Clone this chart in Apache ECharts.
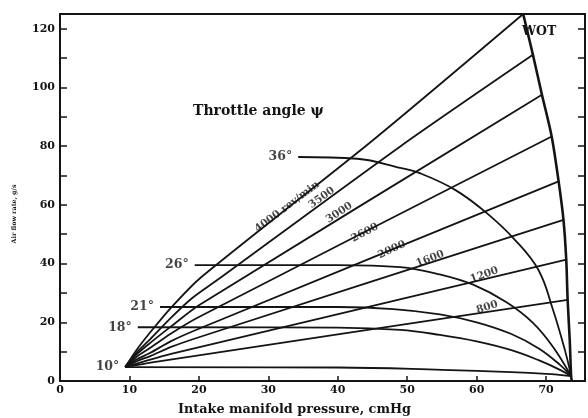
<!DOCTYPE html>
<html>
<head>
<meta charset="utf-8">
<script src="https://cdn.jsdelivr.net/npm/echarts@6/dist/echarts.min.js"></script>
<style>
  html, body { margin: 0; padding: 0; background: #fff; }
  #chart { width: 588px; height: 418px; }
</style>
</head>
<body>
<div id="chart"></div>
<script>
// Engine map: air flow rate vs. intake manifold pressure,
// constant-speed lines fanning out to the wide-open-throttle (WOT) boundary,
// and constant throttle-angle curves closing down toward ambient pressure.

const xTicks = [0, 10, 20, 30, 40, 50, 60, 70];
const yTicks = [0, 20, 40, 60, 80, 100, 120];

// constant engine speed lines, [pressure cmHg, air flow g/s]
const speedNames = ['4000 rev/min', '3500', '3000', '2600', '2000', '1600', '1200', '800'];
const speed4000 = [[9.4, 4.8], [11, 10.5], [13, 16.6], [16, 25], [20.2, 35.1], [45.1, 82.1], [66.7, 125]];
const speed3500 = [[9.4, 4.8], [11, 9.6], [13, 14.3], [16, 21.6], [19, 28.2], [23, 35], [49, 79.9], [68.1, 111.1]];
const speed3000 = [[9.4, 4.8], [11, 9], [13, 13], [16, 18.6], [20, 25.8], [69.4, 97.5]];
const speed2600 = [[9.4, 4.8], [11, 8.2], [13, 11.3], [16, 16.2], [20, 21.8], [70.8, 83.3]];
const speed2000 = [[9.4, 4.8], [11, 7.3], [13, 9.6], [16, 13.6], [20, 17.8], [71.8, 68.0]];
const speed1600 = [[9.4, 4.8], [11, 6.7], [13, 8.5], [16, 11.6], [20, 14.9], [72.5, 54.9]];
const speed1200 = [[9.4, 4.8], [12, 6.6], [16, 9.2], [72.9, 41.3]];
const speed800 = [[9.4, 4.8], [14, 6.6], [73.1, 27.6]];

// constant throttle angle curves
const throttleNames = ['36°', '26°', '21°', '18°', '10°'];
const throttle36 = [[34.3, 76.3], [42.8, 75.7], [49.0, 72.6], [51.8, 70.8], [56.9, 65.1], [61.5, 57.1], [65.5, 48.1], [68.9, 37.8], [71.0, 24.2], [72.7, 10.6], [73.6, 1.7]];
const throttle26 = [[19.4, 39.5], [40, 39.5], [49, 38.8], [54.7, 36.3], [59.5, 32.8], [64.3, 26.8], [68.1, 19.8], [71.0, 11.6], [73.6, 1.7]];
const throttle21 = [[14.4, 25.2], [40, 25.2], [48, 24.5], [54.7, 22.7], [60, 20], [65, 16], [69, 11], [72, 5.5], [73.6, 1.7]];
const throttle18 = [[11.2, 18.3], [40, 18.2], [49, 17.4], [54.7, 15.7], [60, 13.5], [65, 10.5], [69, 7], [72, 3.8], [73.6, 1.7]];
const throttle10 = [[9.4, 4.7], [40, 4.6], [55, 3.8], [65, 3.0], [70, 2.4], [73.6, 1.7]];

// wide-open-throttle boundary
const wot = [[66.7, 125], [68.1, 111.1], [69.4, 97.5], [70.8, 83.3], [71.8, 68.0], [72.5, 54.9], [72.9, 41.3], [73.1, 27.6], [73.4, 14], [73.6, 1.7], [73.7, 0]];

const speedSeries = [speed4000, speed3500, speed3000, speed2600, speed2000, speed1600, speed1200, speed800];
const throttleSeries = [throttle36, throttle26, throttle21, throttle18, throttle10];

const INK = '#141414';
const SERIF = '"DejaVu Serif", "Liberation Serif", serif';

// where each speed label sits (data coords) and its tilt along the line
const speedLabelAt = [[32.7, 59.3, 37], [37.7, 62.4, 36], [40.2, 57.3, 33], [43.9, 50.5, 28], [47.8, 44.7, 25], [53.3, 41.6, 22], [61.1, 36.1, 20], [61.5, 25.1, 17]];

const series = [];
speedSeries.forEach((pts) => {
  series.push({
    type: 'line', data: pts, showSymbol: false, smooth: 0.25,
    lineStyle: { color: INK, width: 1.8 }, silent: true, z: 3
  });
});
throttleSeries.forEach((pts) => {
  series.push({
    type: 'line', data: pts, showSymbol: false, smooth: 0.4,
    lineStyle: { color: INK, width: 1.8 }, silent: true, z: 3
  });
});
series.push({
  type: 'line', data: wot, showSymbol: false, smooth: 0.3,
  lineStyle: { color: INK, width: 2.6 }, silent: true, z: 4
});

// speed labels
series.push({
  type: 'scatter', symbolSize: 0, silent: true, z: 5,
  data: speedNames.map((n, i) => ({
    value: [speedLabelAt[i][0], speedLabelAt[i][1]],
    label: {
      show: true, formatter: n, rotate: speedLabelAt[i][2], position: 'inside',
      color: INK, fontFamily: SERIF, fontWeight: 'bold', fontSize: 10.5
    }
  }))
});

// throttle angle labels, at the left end of each curve
series.push({
  type: 'scatter', symbolSize: 0, silent: true, z: 5,
  data: throttleNames.map((n, i) => ({
    value: throttleSeries[i][0],
    label: {
      show: true, formatter: n, position: 'left', distance: 6,
      color: INK, fontFamily: SERIF, fontWeight: 'bold', fontSize: 12.5
    }
  }))
});

const chart = echarts.init(document.getElementById('chart'), null, { renderer: 'canvas' });
chart.setOption({
  animation: false,
  backgroundColor: '#fff',
  grid: { left: 60, right: 3, top: 14, bottom: 37, containLabel: false, outerBoundsMode: 'none' },
  xAxis: [{
    type: 'value', min: 0, max: 75.6, interval: 10,
    name: 'Intake manifold pressure, cmHg', nameLocation: 'middle', nameGap: 22,
    nameTextStyle: { color: INK, fontFamily: SERIF, fontWeight: 'bold', fontSize: 12.8, padding: [0, 56, 0, 0] },
    axisLine: { onZero: false, lineStyle: { color: INK, width: 2 } },
    axisTick: { inside: true, length: 5, lineStyle: { color: INK, width: 1.5 } },
    axisLabel: {
      color: INK, fontFamily: SERIF, fontWeight: 'bold', fontSize: 11, margin: 4,
      formatter: v => (xTicks.includes(v) ? String(v) : '')
    },
    splitLine: { show: false }
  }, {
    type: 'value', position: 'top', min: 0, max: 75.6,
    axisLine: { show: true, onZero: false, lineStyle: { color: INK, width: 2 } },
    axisTick: { show: false }, axisLabel: { show: false }, splitLine: { show: false }
  }],
  yAxis: [{
    type: 'value', min: 0, max: 125, interval: 10,
    axisLine: { show: true, onZero: false, lineStyle: { color: INK, width: 2 } },
    axisTick: { inside: true, length: 7, lineStyle: { color: INK, width: 1.5 } },
    axisLabel: {
      color: INK, fontFamily: SERIF, fontWeight: 'bold', fontSize: 11, margin: 5,
      formatter: v => (yTicks.includes(v) ? String(v) : '')
    },
    splitLine: { show: false }
  }, {
    type: 'value', position: 'right', min: 0, max: 125, interval: 10,
    axisLine: { show: true, onZero: false, lineStyle: { color: INK, width: 2 } },
    axisTick: { inside: true, length: 7, lineStyle: { color: INK, width: 1.5 } },
    axisLabel: { show: false }, splitLine: { show: false }
  }],
  graphic: [{
    type: 'text', x: 14, y: 214, rotation: Math.PI / 2,
    style: {
      text: 'Air flow rate, g/s', fill: INK, font: 'bold 6.4px ' + SERIF,
      textAlign: 'center', textVerticalAlign: 'middle'
    }
  }, {
    type: 'text', left: 193, top: 104,
    style: { text: 'Throttle angle ψ', fill: INK, font: 'bold 14px ' + SERIF }
  }, {
    type: 'text', left: 522, top: 25,
    style: { text: 'WOT', fill: INK, font: 'bold 12.5px ' + SERIF }
  }],
  series: series
});
</script>
</body>
</html>
